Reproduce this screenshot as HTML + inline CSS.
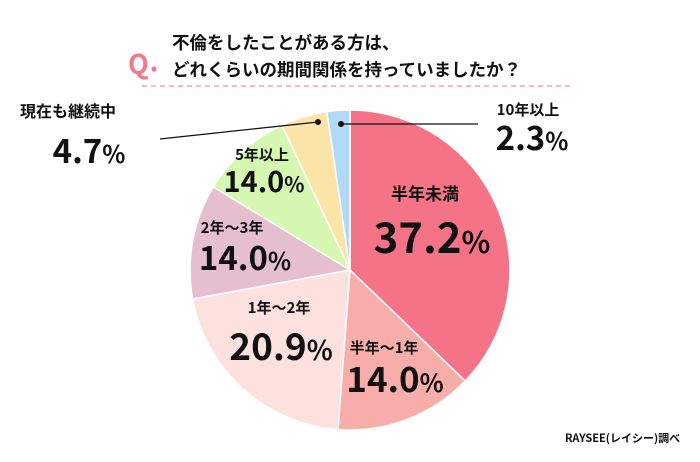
<!DOCTYPE html>
<html><head><meta charset="utf-8">
<style>
html,body{margin:0;padding:0;background:#fff;}
svg{display:block;font-family:"Noto Sans CJK JP","Liberation Sans",sans-serif;}
</style></head>
<body>
<svg width="700" height="462" viewBox="0 0 700 462">
  <text x="128" y="74" font-size="27" font-weight="bold" fill="#f4778a">Q</text>
  <circle cx="154" cy="69" r="2.6" fill="#f4778a"/>
  <text x="172" y="49" font-size="17.5" font-weight="bold" fill="#111">不倫をしたことがある方は、</text>
  <text x="172" y="76" font-size="17.5" font-weight="bold" fill="#111">どれくらいの期間関係を持っていましたか？</text>
  <line x1="142" y1="86" x2="572" y2="86" stroke="#f4a0ad" stroke-width="1.5" stroke-dasharray="5,4"/>
  <g id="slices"></g>
  <g id="labels"></g>
  <line x1="160" y1="139" x2="318" y2="122" stroke="#111" stroke-width="1.3"/>
  <circle cx="318" cy="122" r="3" fill="#111"/>
  <line x1="341" y1="124" x2="478" y2="124" stroke="#111" stroke-width="1.3"/>
  <circle cx="341" cy="124" r="3" fill="#111"/>
  <text x="565" y="442" font-size="11" font-weight="bold" fill="#111">RAYSEE(レイシー)調べ</text>
</svg>
<script>
const categories = ["半年未満","半年〜1年","1年〜2年","2年〜3年","5年以上","現在も継続中","10年以上"];
const values = [37.2, 14.0, 20.9, 11.6, 9.3, 4.7, 2.3];
const printedValues = ["37.2", "14.0", "20.9", "14.0", "14.0", "4.7", "2.3"];
const colors = ["#f57386","#f7aeab","#fde1de","#e5bfcd","#d5f7b2","#fbe4a8","#b2d9f5"];
const labelLayout = [
  {x:425,y:200,cs:17,px:432,py:253,ps:42},
  {x:384,y:353,cs:15,px:395,py:392,ps:35},
  {x:279,y:313,cs:15,px:281,py:360,ps:37},
  {x:232,y:233,cs:15,px:245,py:270,ps:33},
  {x:262,y:160,cs:15,px:264,py:192,ps:29},
  {x:68,y:117,cs:16,px:89,py:163,ps:33},
  {x:528,y:115,cs:15,px:532,py:150,ps:33}
];
const NS="http://www.w3.org/2000/svg";
const cx=350, cy=270, r=160;
const total = values.reduce((a,b)=>a+b,0);
function angleOf(v){ return v/total*2*Math.PI; }
function pt(a){ return [cx+r*Math.sin(a), cy-r*Math.cos(a)]; }
const g=document.getElementById('slices');
let acc=0;
values.forEach((v,i)=>{
  const a0=angleOf(acc), a1=angleOf(acc+v); acc+=v;
  const p0=pt(a0), p1=pt(a1);
  const large=(a1-a0)>Math.PI?1:0;
  const path=document.createElementNS(NS,'path');
  path.setAttribute('d',`M${cx},${cy} L${p0[0]},${p0[1]} A${r},${r} 0 ${large} 1 ${p1[0]},${p1[1]} Z`);
  path.setAttribute('fill',colors[i]);
  path.setAttribute('stroke','#fff');
  path.setAttribute('stroke-width','1.5');
  
  
  g.appendChild(path);
});
const lg=document.getElementById('labels');
categories.forEach((c,i)=>{
  const L=labelLayout[i];
  const t=document.createElementNS(NS,'text');
  t.setAttribute('x',L.x); t.setAttribute('y',L.y);
  t.setAttribute('font-size',L.cs); t.setAttribute('font-weight','bold');
  t.setAttribute('text-anchor','middle'); t.setAttribute('fill','#111');
  t.textContent=c;
  
  
  lg.appendChild(t);
  const p=document.createElementNS(NS,'text');
  p.setAttribute('x',L.px); p.setAttribute('y',L.py);
  p.setAttribute('font-size',L.ps); p.setAttribute('font-weight','bold');
  p.setAttribute('text-anchor','middle'); p.setAttribute('fill','#111');
  p.textContent=printedValues[i];
  const s=document.createElementNS(NS,'tspan');
  s.setAttribute('font-size',Math.round(L.ps*0.72));
  s.textContent='%';
  p.appendChild(s);
  
  
  lg.appendChild(p);
});
</script>
</body></html>
